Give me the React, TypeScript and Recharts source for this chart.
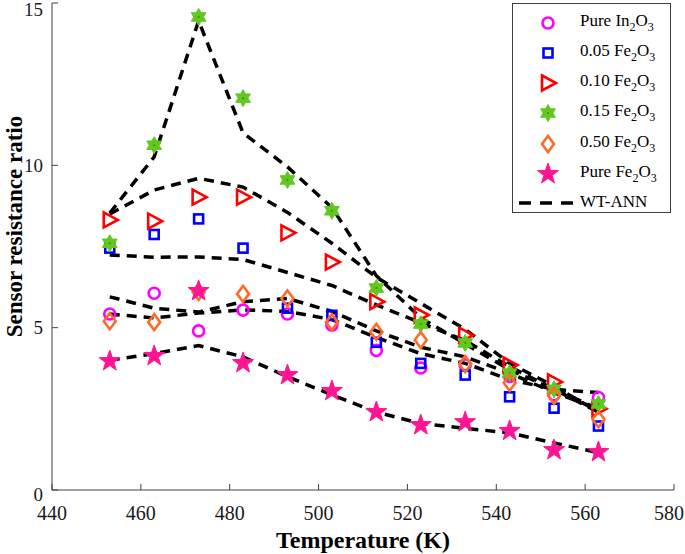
import React from 'react';
import { ComposedChart, Line, XAxis, YAxis, Legend } from 'recharts';

const temps = [453, 463, 473, 483, 493, 503, 513, 523, 533, 543, 553, 563];
const pureIn2O3 = [5.42, 6.06, 4.9, 5.54, 5.42, 5.08, 4.3, 3.76, 3.85, 3.5, 2.93, 2.85];
const fe005 = [7.45, 7.87, 8.35, 7.45, 5.6, 5.38, 4.55, 3.9, 3.54, 2.87, 2.52, 1.97];
const fe010 = [8.32, 8.28, 9.02, 9.02, 7.92, 7.02, 5.8, 5.39, 4.77, 3.85, 3.33, 2.5];
const fe015 = [7.6, 10.62, 14.57, 12.07, 9.55, 8.6, 6.22, 5.11, 4.53, 3.6, 3.1, 2.65];
const fe050 = [5.2, 5.17, 6.1, 6.04, 5.9, 5.17, 4.87, 4.62, 3.88, 3.3, 2.9, 2.18];
const pureFe2O3 = [3.97, 4.13, 6.13, 3.91, 3.54, 3.05, 2.4, 2.0, 2.09, 1.82, 1.23, 1.17];

const annIn2O3 = [5.42, 5.3, 5.45, 5.55, 5.5, 5.25, 4.7, 4.2, 3.9, 3.4, 3.1, 3.0];
const ann005 = [7.24, 7.17, 7.18, 7.1, 6.7, 6.3, 5.7, 5.15, 4.6, 3.8, 3.1, 2.4];
const ann010 = [8.5, 9.24, 9.6, 9.33, 8.55, 7.6, 6.55, 5.75, 4.95, 3.9, 3.2, 2.4];
const ann015 = [8.53, 10.26, 14.45, 11.0, 9.95, 8.7, 6.6, 5.3, 4.5, 3.7, 3.1, 2.5];
const ann050 = [5.95, 5.6, 5.48, 5.8, 5.9, 5.5, 4.9, 4.4, 4.1, 3.6, 3.0, 2.5];
const annFe2O3 = [4.0, 4.2, 4.45, 4.1, 3.49, 2.93, 2.4, 2.05, 1.9, 1.76, 1.45, 1.15];

const xTicks = [440, 460, 480, 500, 520, 540, 560, 580];
const yTicks = [0, 5, 10, 15];

const data = temps.map((t, i) => ({
  t,
  pureIn2O3: pureIn2O3[i],
  fe005: fe005[i],
  fe010: fe010[i],
  fe015: fe015[i],
  fe050: fe050[i],
  pureFe2O3: pureFe2O3[i],
  annIn2O3: annIn2O3[i],
  ann005: ann005[i],
  ann010: ann010[i],
  ann015: ann015[i],
  ann050: ann050[i],
  annFe2O3: annFe2O3[i],
}));

const AXIS = '#404040';
const FONT = '"Liberation Serif", serif';

function starPoints(cx: number, cy: number, n: number, R: number, r: number) {
  const pts: string[] = [];
  for (let k = 0; k < 2 * n; k++) {
    const ang = -Math.PI / 2 + (k * Math.PI) / n;
    const rad = k % 2 === 0 ? R : r;
    pts.push(`${cx + rad * Math.cos(ang)},${cy + rad * Math.sin(ang)}`);
  }
  return pts.join(' ');
}

function Marker({ kind, cx, cy }: { kind: string; cx: number; cy: number }) {
  switch (kind) {
    case 'circle':
      return <circle cx={cx} cy={cy} r={5.5} fill="none" stroke="#ff00ff" strokeWidth={2.6} />;
    case 'square':
      return <rect x={cx - 4.5} y={cy - 4.5} width={9} height={9} fill="none" stroke="#0000ff" strokeWidth={2.6} />;
    case 'tri':
      return (
        <polygon
          points={`${cx - 6},${cy - 7.5} ${cx + 8},${cy} ${cx - 6},${cy + 7.5}`}
          fill="none"
          stroke="#ff0000"
          strokeWidth={2.6}
        />
      );
    case 'hex':
      return (
        <g>
          <polygon points={starPoints(cx, cy, 6, 8.5, 4.9)} fill="#62c820" stroke="#62c820" strokeWidth={1} />
          <circle cx={cx} cy={cy} r={1} fill="#3d8a12" />
        </g>
      );
    case 'diamond':
      return (
        <polygon
          points={`${cx},${cy - 8} ${cx + 6},${cy} ${cx},${cy + 8} ${cx - 6},${cy}`}
          fill="none"
          stroke="#ff6a28"
          strokeWidth={2.6}
        />
      );
    case 'star5':
    default:
      return <polygon points={starPoints(cx, cy, 5, 11, 4.4)} fill="#ff1493" stroke="#ff1493" strokeWidth={1} />;
  }
}

const seriesDefs = [
  { key: 'pureIn2O3', kind: 'circle', pre: 'Pure In', mid: 'O' },
  { key: 'fe005', kind: 'square', pre: '0.05 Fe', mid: 'O' },
  { key: 'fe010', kind: 'tri', pre: '0.10 Fe', mid: 'O' },
  { key: 'fe015', kind: 'hex', pre: '0.15 Fe', mid: 'O' },
  { key: 'fe050', kind: 'diamond', pre: '0.50 Fe', mid: 'O' },
  { key: 'pureFe2O3', kind: 'star5', pre: 'Pure Fe', mid: 'O' },
];
const annKeys = ['annIn2O3', 'ann005', 'ann010', 'ann015', 'ann050', 'annFe2O3'];

const rowCenters = [19, 49, 79, 109, 140, 170, 199];

function LegendBox() {
  const textStyle: React.CSSProperties = {
    position: 'absolute',
    left: 67,
    fontFamily: FONT,
    fontSize: 17,
    color: '#000',
    whiteSpace: 'nowrap',
    lineHeight: '18px',
  };
  const sub: React.CSSProperties = { fontSize: 12, position: 'relative', top: 5 };
  return (
    <div
      style={{
        position: 'relative',
        width: 159,
        height: 210,
        border: `1px solid ${AXIS}`,
        background: '#fff',
        boxSizing: 'border-box',
      }}
    >
      {seriesDefs.map((s, i) => (
        <React.Fragment key={s.key}>
          <svg
            width={30}
            height={26}
            style={{ position: 'absolute', left: 20, top: rowCenters[i] - 13, overflow: 'visible' }}
          >
            <Marker kind={s.kind} cx={15} cy={13} />
          </svg>
          <span style={{ ...textStyle, top: rowCenters[i] - 11 }}>
            {s.pre}
            <span style={sub}>2</span>
            {s.mid}
            <span style={sub}>3</span>
          </span>
        </React.Fragment>
      ))}
      <svg width={64} height={10} style={{ position: 'absolute', left: 5, top: rowCenters[6] - 5 }}>
        <line x1={1} x2={61} y1={5} y2={5} stroke="#000" strokeWidth={3.5} strokeDasharray="12 9" />
      </svg>
      <span style={{ ...textStyle, top: rowCenters[6] - 10 }}>WT-ANN</span>
    </div>
  );
}

const BottomTick = (p: any) => (
  <g>
    <line x1={p.x} x2={p.x} y1={p.y} y2={p.y - 6} stroke={AXIS} strokeWidth={1} />
    <text
      x={Math.min(p.x, 669)}
      y={p.y + 30}
      textAnchor="middle"
      fontFamily={FONT}
      fontSize={20}
      fill="#1a1a1a"
    >
      {p.payload.value}
    </text>
  </g>
);
const TopTick = (p: any) => (
  <line x1={p.x} x2={p.x} y1={p.y} y2={p.y + 6} stroke={AXIS} strokeWidth={1} />
);
const LeftTick = (p: any) => {
  const v = p.payload.value;
  const ty = v === 0 ? p.y + 4 : Math.max(p.y, 9);
  return (
    <g>
      <line x1={p.x} x2={p.x + 6} y1={p.y} y2={p.y} stroke={AXIS} strokeWidth={1} />
      <text
        x={p.x - 9}
        y={ty}
        textAnchor="end"
        dominantBaseline="central"
        fontFamily={FONT}
        fontSize={19}
        fill="#1a1a1a"
      >
        {v}
      </text>
    </g>
  );
};
const RightTick = (p: any) => (
  <line x1={p.x} x2={p.x - 6} y1={p.y} y2={p.y} stroke={AXIS} strokeWidth={1} />
);

const YLabel = (p: any) => {
  const vb = p.viewBox || {};
  const cx = 14;
  const cy = (vb.y ?? 3) + (vb.height ?? 487) / 2 - 20;
  return (
    <text
      x={cx}
      y={cy}
      transform={`rotate(-90 ${cx} ${cy})`}
      textAnchor="middle"
      dominantBaseline="central"
      fontFamily={FONT}
      fontWeight="bold"
      fontSize={23}
      fill="#000"
    >
      Sensor resistance ratio
    </text>
  );
};

const XLabel = (p: any) => {
  const vb = p.viewBox || {};
  const cx = (vb.x ?? 52) + (vb.width ?? 622) / 2;
  return (
    <text x={cx} y={548} textAnchor="middle" fontFamily={FONT} fontWeight="bold" fontSize={24} fill="#000">
      Temperature (K)
    </text>
  );
};

export default function App() {
  return (
    <div style={{ position: 'absolute', left: 0, top: 0, width: 685, height: 554, background: '#fff' }}>
      <ComposedChart width={685} height={554} data={data} margin={{ top: 3, right: 11, bottom: 0, left: 0 }}>
        <XAxis
          dataKey="t"
          type="number"
          domain={[440, 580]}
          ticks={xTicks}
          height={64}
          tickSize={0}
          tickMargin={0}
          tickLine={false}
          stroke={AXIS}
          tick={<BottomTick />}
          interval={0}
          label={<XLabel />}
        />
        <XAxis
          xAxisId="top"
          orientation="top"
          dataKey="t"
          type="number"
          domain={[440, 580]}
          ticks={xTicks}
          height={0}
          tickSize={0}
          tickMargin={0}
          tickLine={false}
          stroke={AXIS}
          tick={<TopTick />}
          interval={0}
        />
        <YAxis
          type="number"
          domain={[0, 15]}
          ticks={yTicks}
          width={52}
          tickSize={0}
          tickMargin={0}
          tickLine={false}
          stroke={AXIS}
          tick={<LeftTick />}
          interval={0}
          label={<YLabel />}
        />
        <YAxis
          yAxisId="right"
          orientation="right"
          type="number"
          domain={[0, 15]}
          ticks={yTicks}
          width={0}
          tickSize={0}
          tickMargin={0}
          tickLine={false}
          stroke={AXIS}
          tick={<RightTick />}
          interval={0}
        />
        {seriesDefs.map((s) => (
          <Line
            key={s.key}
            dataKey={s.key}
            stroke="none"
            isAnimationActive={false}
            activeDot={false}
            legendType="none"
            dot={(p: any) => <Marker key={`${s.key}-${p.index}`} kind={s.kind} cx={p.cx} cy={p.cy} />}
          />
        ))}
        {annKeys.map((k) => (
          <Line
            key={k}
            dataKey={k}
            type="linear"
            stroke="#000"
            strokeWidth={3.5}
            strokeDasharray="10 7"
            dot={false}
            activeDot={false}
            isAnimationActive={false}
          />
        ))}
        <Legend
          layout="horizontal"
          verticalAlign="middle"
          align="center"
          wrapperStyle={{ position: 'absolute', left: 512, top: 3, width: 159, height: 210 }}
          content={() => <LegendBox />}
        />
      </ComposedChart>
    </div>
  );
}
